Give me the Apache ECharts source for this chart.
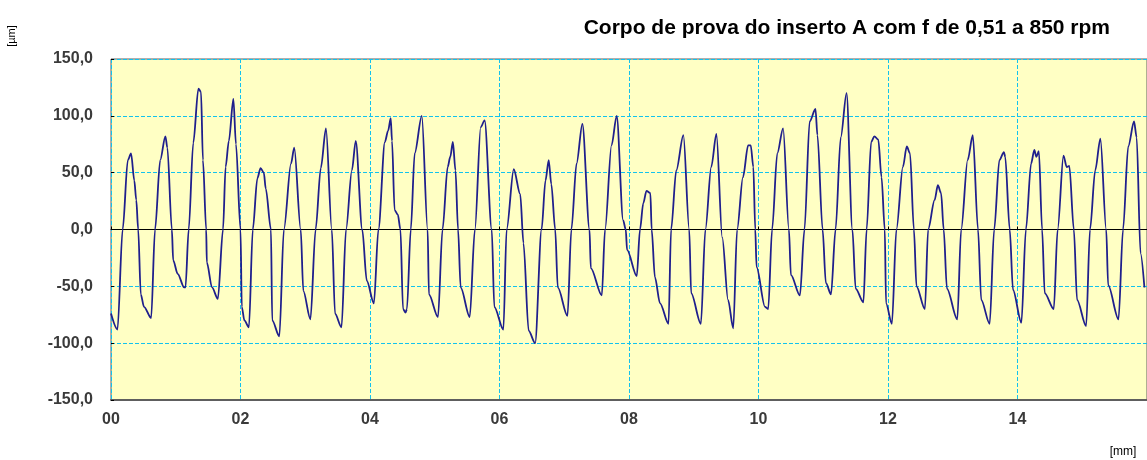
<!DOCTYPE html>
<html>
<head>
<meta charset="utf-8">
<script src="https://cdn.jsdelivr.net/npm/echarts@6/dist/echarts.min.js"></script>
<style>
  html, body { margin: 0; padding: 0; background: #ffffff; }
  #chart { width: 1147px; height: 460px; }
</style>
</head>
<body>
<div id="chart"></div>
<script>
// Chart texts
const chartTitle = 'Corpo de prova do inserto A com f de 0,51 a 850 rpm';
const yUnit = '[µm]';
const xUnit = '[mm]';

// Axis ranges / ticks
const xTicks = [0, 2, 4, 6, 8, 10, 12, 14, 16];
const yTicks = [-150, -100, -50, 0, 50, 100, 150];

// Surface profile: [position (mm), height (µm)]
const profile0to4 = [
  [0.00,-74],[0.10,-88],[0.18,0],[0.26,61],[0.31,67],[0.36,43],[0.39,26],[0.42,0],[0.46,-57],[0.51,-68],
  [0.62,-78],[0.68,0],[0.76,61],[0.84,82],[0.87,72],[0.94,0],[0.96,-27],[1.03,-39],[1.13,-51],[1.15,-51],
  [1.20,0],[1.27,76],[1.35,124],[1.39,121],[1.42,61],[1.47,0],[1.48,-29],[1.56,-51],[1.65,-61],[1.73,0],
  [1.77,55],[1.82,78],[1.89,115],[1.93,75],[2.00,0],[2.02,-68],[2.06,-80],[2.13,-86],[2.19,0],[2.26,45],
  [2.31,54],[2.36,50],[2.39,36],[2.47,0],[2.49,-80],[2.60,-94],[2.67,0],[2.78,58],[2.83,72],[2.93,0],
  [2.97,-54],[3.08,-79],[3.16,0],[3.24,54],[3.32,89],[3.41,0],[3.46,-74],[3.56,-86],[3.63,0],[3.72,52],
  [3.78,78],[3.88,0],[3.95,-45],[4.06,-65]
];
const profile4to8 = [
  [4.13,0],[4.23,77],[4.28,87],[4.32,98],[4.34,78],[4.38,17],[4.43,13],[4.47,0],[4.51,-70],[4.55,-73],
  [4.57,-70],[4.63,0],[4.69,67],[4.80,100],[4.89,0],[4.91,-57],[5.05,-77],[5.12,0],[5.20,55],[5.24,64],
  [5.28,77],[5.32,52],[5.36,0],[5.40,-51],[5.54,-77],[5.62,0],[5.71,90],[5.77,96],[5.88,0],[5.92,-68],
  [6.06,-88],[6.11,0],[6.22,53],[6.32,31],[6.37,-12],[6.45,-89],[6.55,-100],[6.65,0],[6.71,43],[6.76,61],
  [6.80,40],[6.86,0],[6.90,-51],[7.05,-76],[7.11,0],[7.19,58],[7.28,93],[7.39,0],[7.41,-34],[7.58,-58],
  [7.63,0],[7.73,74],[7.81,100],[7.91,8],[7.95,0],[7.97,-18],[8.12,-41]
];
const profile8to12 = [
  [8.17,0],[8.22,23],[8.27,34],[8.33,32],[8.35,0],[8.40,-42],[8.48,-65],[8.61,-83],[8.65,0],[8.73,52],
  [8.84,83],[8.93,0],[8.96,-56],[9.11,-83],[9.18,0],[9.27,55],[9.35,84],[9.44,-7],[9.53,-62],[9.61,-87],
  [9.67,0],[9.76,46],[9.84,74],[9.88,74],[9.92,55],[9.95,0],[9.97,-33],[10.10,-68],[10.15,-70],[10.21,0],
  [10.29,67],[10.38,89],[10.47,0],[10.50,-40],[10.64,-58],[10.71,0],[10.79,95],[10.88,106],[10.91,83],[10.99,0],
  [11.04,-47],[11.12,-57],[11.19,0],[11.27,81],[11.36,120],[11.45,0],[11.50,-52],[11.62,-64],[11.67,0],[11.74,77],
  [11.79,82],[11.85,79],[11.90,46],[11.95,0],[11.97,-65],[12.06,-83]
];
const profile12to16 = [
  [12.13,0],[12.23,55],[12.29,73],[12.34,67],[12.40,0],[12.44,-50],[12.57,-70],[12.62,0],[12.72,26],[12.77,39],
  [12.82,32],[12.86,0],[12.91,-52],[13.07,-79],[13.13,0],[13.23,61],[13.31,83],[13.39,0],[13.44,-62],[13.57,-83],
  [13.64,0],[13.72,61],[13.79,68],[13.81,64],[13.88,0],[13.93,-53],[14.06,-82],[14.13,0],[14.21,58],[14.26,70],
  [14.29,64],[14.33,69],[14.38,0],[14.42,-56],[14.56,-70],[14.62,0],[14.71,65],[14.76,55],[14.80,56],[14.87,0],
  [14.92,-62],[15.06,-85],[15.12,0],[15.20,52],[15.28,80],[15.37,0],[15.40,-49],[15.56,-79],[15.63,0],[15.71,73],
  [15.80,95],[15.84,81],[15.90,-21],[15.96,-51]
];
const profile = profile0to4.concat(profile4to8, profile8to12, profile12to16);

const chart = echarts.init(document.getElementById('chart'), null, { renderer: 'canvas' });
const labelFont = { color: '#3a3a3a', fontSize: 16, fontWeight: 'bold', fontFamily: 'Liberation Sans, Arial, sans-serif' };
const gridLine = { show: true, lineStyle: { color: '#12c2ee', width: 1, type: [4, 2] } };

chart.setOption({
  animation: false,
  backgroundColor: '#ffffff',
  title: {
    text: chartTitle,
    right: 32, top: 13,
    textStyle: { color: '#000', fontSize: 21, fontWeight: 'bold', fontFamily: 'Liberation Sans, Arial, sans-serif' }
  },
  grid: {
    left: 111, right: -1, top: 59, bottom: 60,
    show: true, backgroundColor: '#ffffc4', borderColor: '#5e5e5e', borderWidth: 1
  },
  xAxis: [{
    type: 'value', min: xTicks[0], max: xTicks[xTicks.length - 1], interval: xTicks[1] - xTicks[0],
    position: 'bottom',
    axisLine: { show: true, onZero: false, lineStyle: { color: '#5e5e5e', width: 2 } },
    axisTick: { show: false },
    splitLine: gridLine,
    axisLabel: Object.assign({
      margin: 12, showMaxLabel: false,
      formatter: v => (v < 10 ? '0' : '') + v
    }, labelFont)
  }, {
    type: 'value', min: xTicks[0], max: xTicks[xTicks.length - 1], interval: xTicks[1] - xTicks[0],
    position: 'bottom',
    axisLine: { show: true, onZero: true, lineStyle: { color: '#000', width: 1 } },
    axisTick: { show: true, inside: true, length: 3, lineStyle: { color: '#000' } },
    splitLine: { show: false },
    axisLabel: { show: false }
  }],
  yAxis: {
    type: 'value', min: yTicks[0], max: yTicks[yTicks.length - 1], interval: yTicks[1] - yTicks[0],
    axisLine: { show: false },
    axisTick: { show: true, inside: true, length: 3, lineStyle: { color: '#000' } },
    splitLine: gridLine,
    axisLabel: Object.assign({
      margin: 18,
      formatter: v => v.toFixed(1).replace('.', ',')
    }, labelFont)
  },
  graphic: [{
    type: 'text', x: 12, y: 36, rotation: Math.PI / 2,
    style: { text: yUnit, fill: '#000', font: '11px "Liberation Sans", Arial, sans-serif',
             align: 'center', verticalAlign: 'middle', textAlign: 'center', textVerticalAlign: 'middle' }
  }, {
    type: 'text', x: 1123, y: 452,
    style: { text: xUnit, fill: '#000', font: '12px "Liberation Sans", Arial, sans-serif',
             align: 'center', verticalAlign: 'middle', textAlign: 'center', textVerticalAlign: 'middle' }
  }],
  series: [{
    type: 'line',
    xAxisIndex: 0,
    data: profile,
    showSymbol: false,
    smooth: 0.3,
    smoothMonotone: 'x',
    lineStyle: { color: '#1f1f8c', width: 1.8 },
    z: 5
  }]
});
</script>
</body>
</html>
